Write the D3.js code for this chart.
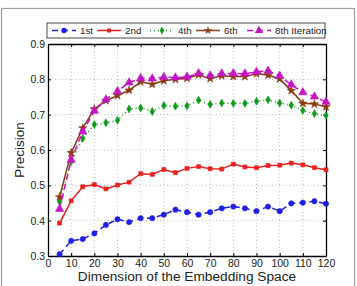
<!DOCTYPE html>
<html>
<head>
<meta charset="utf-8">
<script src="https://cdn.jsdelivr.net/npm/d3@7"></script>
<style>
  body { margin: 0; background: #fff; }
  text { font-family: "Liberation Sans", Arial, sans-serif; fill: #222; }
</style>
</head>
<body>
<div id="chart"></div>
<script>
// Data
var dims = [5, 10, 15, 20, 25, 30, 35, 40, 45, 50, 55, 60, 65, 70, 75, 80, 85, 90, 95, 100, 105, 110, 115, 120];
var iter1 = [0.305, 0.343, 0.348, 0.364, 0.388, 0.404, 0.396, 0.407, 0.407, 0.417, 0.431, 0.424, 0.417, 0.424, 0.435, 0.440, 0.435, 0.427, 0.440, 0.427, 0.449, 0.451, 0.455, 0.448];
var iter2 = [0.393, 0.456, 0.496, 0.502, 0.490, 0.501, 0.509, 0.533, 0.531, 0.545, 0.536, 0.548, 0.553, 0.547, 0.546, 0.560, 0.552, 0.550, 0.556, 0.557, 0.563, 0.558, 0.550, 0.544];
var iter4 = [0.454, 0.567, 0.633, 0.672, 0.677, 0.684, 0.716, 0.719, 0.709, 0.726, 0.724, 0.725, 0.741, 0.729, 0.733, 0.732, 0.732, 0.738, 0.742, 0.733, 0.727, 0.712, 0.703, 0.698];
var iter6 = [0.467, 0.592, 0.662, 0.716, 0.740, 0.754, 0.769, 0.793, 0.786, 0.796, 0.800, 0.803, 0.813, 0.802, 0.810, 0.808, 0.808, 0.816, 0.812, 0.801, 0.768, 0.732, 0.730, 0.722];
var iter8 = [0.433, 0.572, 0.652, 0.711, 0.743, 0.766, 0.791, 0.803, 0.802, 0.806, 0.805, 0.807, 0.817, 0.811, 0.816, 0.817, 0.816, 0.821, 0.824, 0.810, 0.785, 0.763, 0.751, 0.736];
var seriesNames = ['1st', '2nd', '4th', '6th', '8th Iteration'];
var xTicks = [0, 10, 20, 30, 40, 50, 60, 70, 80, 90, 100, 110, 120];
var yTicks = [0.3, 0.4, 0.5, 0.6, 0.7, 0.8, 0.9];

var W = 357, H = 286;
var margin = {top: 44, right: 31, bottom: 30, left: 48};
var width = W - margin.left - margin.right,
    height = H - margin.top - margin.bottom;

var svg = d3.select('#chart').append('svg')
    .attr('width', W)
    .attr('height', H);

// outer frame
svg.append('rect')
    .attr('x', 1.5).attr('y', 8.5)
    .attr('width', 353).attr('height', 290)
    .attr('fill', 'none')
    .attr('stroke', '#a0a0a0')
    .attr('stroke-width', 1.2);

var g = svg.append('g')
    .attr('transform', 'translate(' + margin.left + ',' + margin.top + ')');

var x = d3.scaleLinear().domain([0, 120]).range([0, width]);
var y = d3.scaleLinear().domain([0.3, 0.9]).range([height, 0]);

// grid
g.selectAll('.gx').data(xTicks.slice(1, -1)).enter().append('line')
    .attr('x1', function(d) { return x(d); }).attr('x2', function(d) { return x(d); })
    .attr('y1', 0).attr('y2', height)
    .attr('stroke', '#aaa').attr('stroke-width', 0.8).attr('stroke-dasharray', '1,2.5');
g.selectAll('.gy').data(yTicks.slice(1, -1)).enter().append('line')
    .attr('x1', 0).attr('x2', width)
    .attr('y1', function(d) { return y(d); }).attr('y2', function(d) { return y(d); })
    .attr('stroke', '#aaa').attr('stroke-width', 0.8).attr('stroke-dasharray', '1,2.5');

// axes
g.append('g')
    .attr('transform', 'translate(0,' + height + ')')
    .call(d3.axisBottom(x).tickValues(xTicks).tickSizeInner(-3).tickSizeOuter(0).tickPadding(4));
g.append('g')
    .call(d3.axisLeft(y).tickValues(yTicks).tickFormat(d3.format('.1f')).tickSizeInner(-3).tickSizeOuter(0).tickPadding(3));
g.append('g')
    .call(d3.axisTop(x).tickValues(xTicks).tickFormat('').tickSizeInner(-3).tickSizeOuter(0));
g.append('g')
    .attr('transform', 'translate(' + width + ',0)')
    .call(d3.axisRight(y).tickValues(yTicks).tickFormat('').tickSizeInner(-3).tickSizeOuter(0));
g.selectAll('.domain').attr('stroke', '#000').attr('stroke-width', 1.3);
g.selectAll('.tick line').attr('stroke', '#000');
g.selectAll('.tick text').style('font-size', '10.5px').attr('fill', '#222');

// axis titles
g.append('text')
    .attr('transform', 'rotate(-90)')
    .attr('x', -height / 2)
    .attr('y', -24)
    .style('text-anchor', 'middle')
    .style('font-size', '13.5px')
    .text('Precision');
g.append('text')
    .attr('x', width / 2)
    .attr('y', height + 25)
    .style('text-anchor', 'middle')
    .style('font-size', '13.7px')
    .text('Dimension of the Embedding Space');

var styles = [
  {vals: iter1, color: '#1f1fe6', dash: '6,4', shape: d3.symbolCircle, size: 22},
  {vals: iter2, color: '#e8201f', dash: null, shape: d3.symbolSquare, size: 16},
  {vals: iter4, color: '#0f9a1a', dash: '1,3', shape: d3.symbolDiamond, size: 18},
  {vals: iter6, color: '#8b3a14', dash: null, shape: d3.symbolStar, size: 22},
  {vals: iter8, color: '#c414c4', dash: '6,4', shape: d3.symbolTriangle, size: 30}
];

var line = d3.line()
    .x(function(d, i) { return x(dims[i]); })
    .y(function(d) { return y(d); });

styles.forEach(function(s) {
  g.append('path')
      .datum(s.vals)
      .attr('fill', 'none')
      .attr('stroke', s.color)
      .attr('stroke-width', 1.5)
      .attr('stroke-dasharray', s.dash)
      .attr('d', line);
  g.selectAll(null).data(s.vals).enter().append('path')
      .attr('transform', function(d, i) { return 'translate(' + x(dims[i]) + ',' + y(d) + ')'; })
      .attr('d', d3.symbol().type(s.shape).size(s.size))
      .attr('fill', s.color)
      .attr('stroke', s.color)
      .attr('stroke-width', 0.6);
});

// legend
var legend = svg.append('g');
legend.append('rect')
    .attr('x', 47).attr('y', 23)
    .attr('width', 278).attr('height', 15)
    .attr('fill', '#fff')
    .attr('stroke', '#333').attr('stroke-width', 0.9);
var legX = [52, 97, 150, 196, 247];
styles.forEach(function(s, i) {
  var lx = legX[i], ly = 30.5;
  legend.append('line')
      .attr('x1', lx).attr('x2', lx + 24)
      .attr('y1', ly).attr('y2', ly)
      .attr('stroke', s.color).attr('stroke-width', 1.5)
      .attr('stroke-dasharray', s.dash);
  legend.append('path')
      .attr('transform', 'translate(' + (lx + 12) + ',' + ly + ')')
      .attr('d', d3.symbol().type(s.shape).size(s.size))
      .attr('fill', s.color);
  legend.append('text')
      .attr('x', lx + 28).attr('y', ly + 3.5)
      .style('font-size', '9.8px')
      .text(seriesNames[i]);
});
</script>
</body>
</html>
